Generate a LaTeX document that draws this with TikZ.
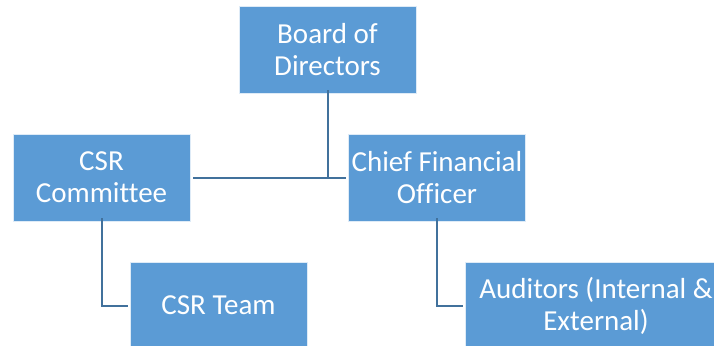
\documentclass[tikz,border=0pt]{standalone}
\usepackage{fontspec}
\setmainfont[Ligatures={NoCommon}]{Carlito}
\definecolor{boxblue}{HTML}{5B9BD5}
\definecolor{lineblue}{HTML}{41719C}
\tikzset{
  orgbox/.style={rectangle, fill=boxblue, draw=white!80!boxblue, line width=0.6pt, text=white,
    align=center, inner sep=0pt, minimum height=87pt,
    font=\fontsize{29}{32}\selectfont},
  conn/.style={draw=lineblue, line width=2pt}
}
\begin{document}
\begin{tikzpicture}[x=1pt,y=-1pt]
\useasboundingbox (0,0) rectangle (714,345);
\clip (0,0) rectangle (714,345);
\node[orgbox, minimum width=177pt] (board) at (327.5,49.5) {Board of\\Directors};
\node[orgbox, minimum width=177pt] (csr) at (101.5,177.5) {CSR\\Committee};
\node[orgbox, minimum width=177pt] (cfo) at (437,177.5) {Chief Financial\\Officer};
\node[orgbox, minimum width=177pt] (team) at (218.5,305.5) {CSR Team};
\node[orgbox, minimum width=262pt] (aud) at (596,305.5) {Auditors (Internal \&\\External)};
\coordinate (j) at (board.south |- csr.east);
\draw[conn] ([yshift=3pt]board.south) -- (j);
\draw[conn] ([xshift=3pt]csr.east) -- ([xshift=-2pt]cfo.west);
\draw[conn] ([yshift=3pt]csr.south -| 102,0) |- ([xshift=-2pt]team.west);
\draw[conn] ([yshift=3pt]cfo.south) |- ([xshift=-2pt]aud.west);
\end{tikzpicture}
\end{document}
